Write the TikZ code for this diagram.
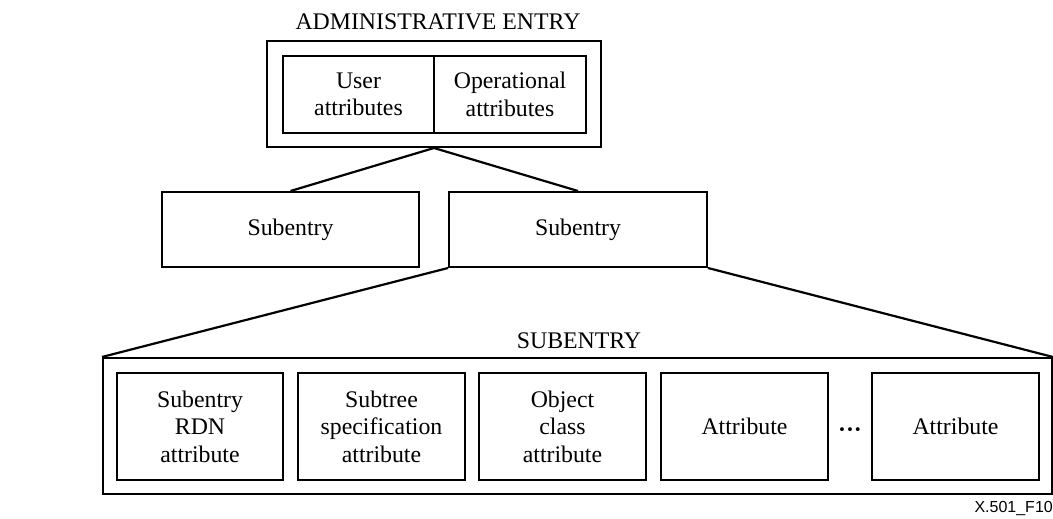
\documentclass[tikz,border=0pt]{standalone}
\usepackage{fontspec}
\setmainfont{Liberation Serif}
\newfontfamily\labelsans{Liberation Sans}
\begin{document}
\begin{tikzpicture}[x=1pt,y=-1pt,
  txt/.style={font=\fontsize{23.8}{27.5}\selectfont, align=center},
  outerbox/.style={draw, line width=2pt, inner sep=0pt},
  innerbox/.style={draw, line width=2.6pt, inner sep=0pt, txt},
  conn/.style={line width=2.2pt}]
\useasboundingbox (0,0) rectangle (1053,519);
% Administrative entry
\node[txt] (admtitle) at (438,22) {ADMINISTRATIVE ENTRY};
\node[outerbox, minimum width=334pt, minimum height=106pt] (admin) at (434,94) {};
\node[innerbox, minimum width=151pt, minimum height=77pt] (user) at (358.5,94.5) {User\\attributes};
\node[innerbox, minimum width=152pt, minimum height=77pt] (oper) at (510,94.5) {Operational\\attributes};
% Subentries
\node[outerbox, minimum width=257pt, minimum height=75pt, txt] (sub1) at (290.5,229.5) {Subentry};
\node[outerbox, minimum width=258pt, minimum height=75pt, txt] (sub2) at (578,229.5) {Subentry};
\draw[conn] (admin.south) -- (sub1.north);
\draw[conn] (admin.south) -- (sub2.north);
% SUBENTRY detail
\node[txt] (subtitle) at (579,341) {SUBENTRY};
\node[outerbox, minimum width=949pt, minimum height=136pt] (subentry) at (577.5,426) {};
\draw[conn] (sub2.south west) -- (subentry.north west);
\draw[conn] (sub2.south east) -- (subentry.north east);
\node[innerbox, minimum width=166pt, minimum height=107pt] (rdn) at (200,426.5) {Subentry\\RDN\\attribute};
\node[innerbox, minimum width=167pt, minimum height=107pt] (subtree) at (381.5,426.5) {Subtree\\specification\\attribute};
\node[innerbox, minimum width=167pt, minimum height=107pt] (objcls) at (562.5,426.5) {Object\\class\\attribute};
\node[innerbox, minimum width=167pt, minimum height=107pt] (attr1) at (744.5,426.5) {Attribute};
\node[txt, font=\fontsize{23.8}{27.5}\selectfont\bfseries] (dots) at (850,433) {···};
\node[innerbox, minimum width=167pt, minimum height=107pt] (attr2) at (955.5,426.5) {Attribute};
% Figure reference
\node[font=\labelsans\fontsize{16}{18}\selectfont, anchor=east, inner sep=0pt] (figref) at (1053,509) {X.501\_F10};
\end{tikzpicture}
\end{document}
